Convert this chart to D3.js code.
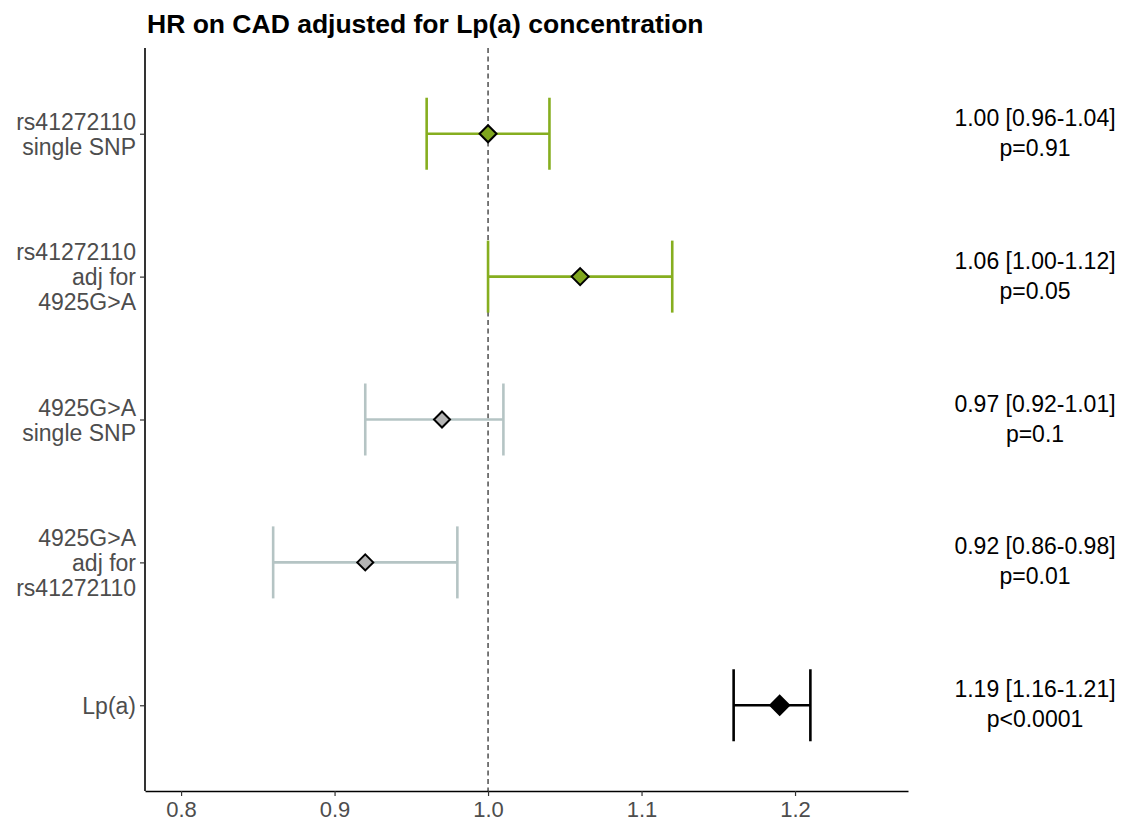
<!DOCTYPE html>
<html>
<head>
<meta charset="utf-8">
<script src="https://cdn.jsdelivr.net/npm/d3@7"></script>
<style>
  body { margin: 0; background: #fff; }
  text { font-family: "Liberation Sans", Arial, sans-serif; }
</style>
</head>
<body>
<script>
// rows from top to bottom
var labels = [
  ["rs41272110", "single SNP"],
  ["rs41272110", "adj for", "4925G>A"],
  ["4925G>A", "single SNP"],
  ["4925G>A", "adj for", "rs41272110"],
  ["Lp(a)"]
];
var hr = [1.00, 1.06, 0.97, 0.92, 1.19];
var lower = [0.96, 1.00, 0.92, 0.86, 1.16];
var upper = [1.04, 1.12, 1.01, 0.98, 1.21];
var pvals = ["p=0.91", "p=0.05", "p=0.1", "p=0.01", "p<0.0001"];
var groups = ["rs", "rs", "g", "g", "lpa"];
var xTicks = [0.8, 0.9, 1.0, 1.1, 1.2];

var lineColor = {rs: "#86AE1F", g: "#B5C4C4", lpa: "#000000"};
var fillColor = {rs: "#7FA61E", g: "#B4B4B4", lpa: "#000000"};
var markSize = {rs: 8.5, g: 8, lpa: 9.5};

var width = 1126, height = 823;
var pLeft = 145, pRight = 908, pTop = 48, pBottom = 791;

var svg = d3.select("body").append("svg")
  .attr("width", width)
  .attr("height", height);

var x = d3.scaleLinear()
  .domain([0.7765, 1.2736])
  .range([pLeft, pRight]);

var rows = d3.range(hr.length);
var y = d3.scalePoint()
  .domain(rows)
  .range([pTop, pBottom])
  .padding(0.6);

var cap = 36;

// reference line at 1
svg.append("line")
  .attr("x1", x(1)).attr("x2", x(1))
  .attr("y1", pTop).attr("y2", pBottom)
  .attr("stroke", "#222")
  .attr("stroke-width", 1.2)
  .attr("stroke-dasharray", "5,3.5");

var g = svg.selectAll(".row")
  .data(rows)
  .enter().append("g");

g.append("line")
  .attr("x1", function(i) { return x(lower[i]); })
  .attr("x2", function(i) { return x(upper[i]); })
  .attr("y1", function(i) { return y(i); })
  .attr("y2", function(i) { return y(i); })
  .attr("stroke", function(i) { return lineColor[groups[i]]; })
  .attr("stroke-width", 2.6);

[lower, upper].forEach(function(arr) {
  g.append("line")
    .attr("x1", function(i) { return x(arr[i]); })
    .attr("x2", function(i) { return x(arr[i]); })
    .attr("y1", function(i) { return y(i) - cap; })
    .attr("y2", function(i) { return y(i) + cap; })
    .attr("stroke", function(i) { return lineColor[groups[i]]; })
    .attr("stroke-width", 2.6);
});

g.append("path")
  .attr("d", function(i) {
    var s = markSize[groups[i]], cx = x(hr[i]), cy = y(i);
    return "M" + cx + "," + (cy - s) + "L" + (cx + s) + "," + cy +
      "L" + cx + "," + (cy + s) + "L" + (cx - s) + "," + cy + "Z";
  })
  .attr("fill", function(i) { return fillColor[groups[i]]; })
  .attr("stroke", "#000")
  .attr("stroke-width", 2);

// right-hand annotations
var ann = g.append("text")
  .attr("text-anchor", "middle")
  .attr("font-size", 23)
  .attr("fill", "#000");
ann.append("tspan")
  .attr("x", 1035)
  .attr("y", function(i) { return y(i) - 8; })
  .text(function(i) {
    return hr[i].toFixed(2) + " [" + lower[i].toFixed(2) + "-" + upper[i].toFixed(2) + "]";
  });
ann.append("tspan")
  .attr("x", 1035)
  .attr("y", function(i) { return y(i) + 22; })
  .text(function(i) { return pvals[i]; });

// axes
var xAxis = svg.append("g")
  .attr("transform", "translate(0," + pBottom + ")")
  .call(d3.axisBottom(x).tickValues(xTicks).tickFormat(d3.format(".1f")).tickSize(5).tickSizeOuter(0));
xAxis.select(".domain").attr("stroke", "#000").attr("stroke-width", 1.6);
xAxis.selectAll(".tick line").attr("stroke", "#333").attr("stroke-width", 1.2);
xAxis.selectAll(".tick text")
  .attr("font-size", 22)
  .attr("fill", "#4d4d4d")
  .attr("dy", "0.82em")
  .style("font-family", "'Liberation Sans', Arial, sans-serif");

var yAxis = svg.append("g")
  .attr("transform", "translate(" + pLeft + ",0)")
  .call(d3.axisLeft(y).tickSize(5).tickSizeOuter(0).tickFormat(""));
yAxis.select(".domain").attr("stroke", "#000").attr("stroke-width", 1.6)
  .attr("d", "M0," + pTop + "V" + pBottom);
yAxis.selectAll(".tick line").attr("stroke", "#333").attr("stroke-width", 1.2);

var lh = 25;
yAxis.selectAll(".tick").append("text")
  .attr("text-anchor", "end")
  .attr("font-size", 23)
  .attr("fill", "#4d4d4d")
  .style("font-family", "'Liberation Sans', Arial, sans-serif")
  .each(function(i) {
    var lines = labels[i];
    var t = d3.select(this);
    lines.forEach(function(l, k) {
      t.append("tspan")
        .attr("x", -9)
        .attr("y", (k - (lines.length - 1) / 2) * lh)
        .attr("dy", "0.35em")
        .text(l);
    });
  });

svg.append("text")
  .attr("x", 147)
  .attr("y", 33)
  .attr("font-size", 26.5)
  .attr("font-weight", "bold")
  .attr("fill", "#000")
  .text("HR on CAD adjusted for Lp(a) concentration");
</script>
</body>
</html>
